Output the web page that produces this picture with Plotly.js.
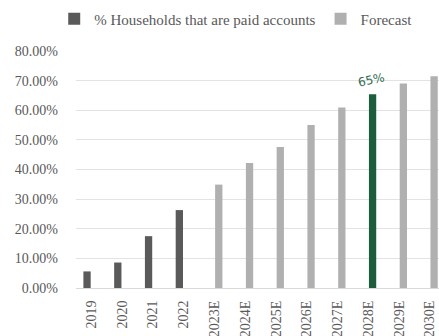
<!DOCTYPE html>
<html>
<head>
<meta charset="utf-8">
<script src="https://cdn.plot.ly/plotly-3.0.1.min.js"></script>
<style>
  html, body { margin: 0; padding: 0; background: #ffffff; overflow: hidden; }
  #chart { width: 439px; height: 336px; }
</style>
</head>
<body>
<div id="chart"></div>
<script>
// ---- data ----
const categories = ['2019','2020','2021','2022','2023E','2024E','2025E','2026E','2027E','2028E','2029E','2030E'];
const actualYears = ['2019','2020','2021','2022'];
const actualValues = [0.056, 0.086, 0.175, 0.263];
const forecastYears = ['2023E','2024E','2025E','2026E','2027E','2028E','2029E','2030E'];
const forecastValues = [0.349, 0.422, 0.476, 0.550, 0.609, 0.654, 0.690, 0.715];
const highlightYear = '2028E';
const highlightLabel = '65%';
const yTickValues = [0, 0.1, 0.2, 0.3, 0.4, 0.5, 0.6, 0.7, 0.8];

const darkGray = '#5a5a5a';
const lightGray = '#b0b0b0';
const green = '#1d5c3c';
const textGray = '#595959';
const serif = '"Liberation Serif", "Times New Roman", serif';

// Excel-style clustered layout: each series has its own slot in the category band
const barWidth = 0.237;
const slotShift = 0.141;

const forecastColors = forecastYears.map(y => y === highlightYear ? green : lightGray);

const traces = [
  {
    type: 'bar',
    name: '% Households that are paid accounts',
    x: actualYears,
    y: actualValues,
    width: barWidth,
    offset: -slotShift - barWidth / 2,
    marker: { color: darkGray },
    hoverinfo: 'x+y'
  },
  {
    type: 'bar',
    name: 'Forecast',
    x: forecastYears,
    y: forecastValues,
    width: barWidth,
    offset: slotShift - barWidth / 2,
    marker: { color: forecastColors },
    hoverinfo: 'x+y'
  }
];

const layout = {
  width: 439,
  height: 336,
  paper_bgcolor: '#ffffff',
  plot_bgcolor: '#ffffff',
  margin: { l: 76, r: 0, t: 51, b: 48 },
  barmode: 'overlay',
  font: { family: serif, color: textGray, size: 14 },
  showlegend: true,
  legend: {
    orientation: 'h',
    x: -0.06, xanchor: 'left',
    y: 1.135, yanchor: 'middle',
    font: { family: serif, size: 15, color: textGray },
    bgcolor: 'rgba(0,0,0,0)',
    itemwidth: 30,
    traceorder: 'normal'
  },
  xaxis: {
    type: 'category',
    categoryorder: 'array',
    categoryarray: categories,
    range: [-0.5, 11.3],
    tickangle: -90,
    tickfont: { family: serif, size: 14, color: textGray },
    showgrid: false,
    showline: true,
    linecolor: '#d9d9d9',
    linewidth: 1,
    ticks: '',
    ticklabelstandoff: 6,
    fixedrange: true
  },
  yaxis: {
    range: [0, 0.8],
    tickvals: yTickValues,
    tickformat: '.2%',
    tickfont: { family: serif, size: 14, color: textGray },
    showgrid: true,
    gridcolor: '#e3e3e3',
    gridwidth: 1,
    zeroline: false,
    showline: false,
    ticks: '',
    ticklabelstandoff: 17,
    fixedrange: true
  },
  annotations: [
    {
      x: highlightYear,
      y: forecastValues[forecastYears.indexOf(highlightYear)],
      xref: 'x', yref: 'y',
      text: highlightLabel,
      showarrow: false,
      yanchor: 'bottom',
      xshift: 3,
      yshift: 2,
      textangle: -12,
      font: { family: '"DejaVu Sans", sans-serif', size: 12, color: '#2f6e50' }
    }
  ]
};

Plotly.newPlot('chart', traces, layout, { displayModeBar: false, staticPlot: true });
</script>
</body>
</html>
